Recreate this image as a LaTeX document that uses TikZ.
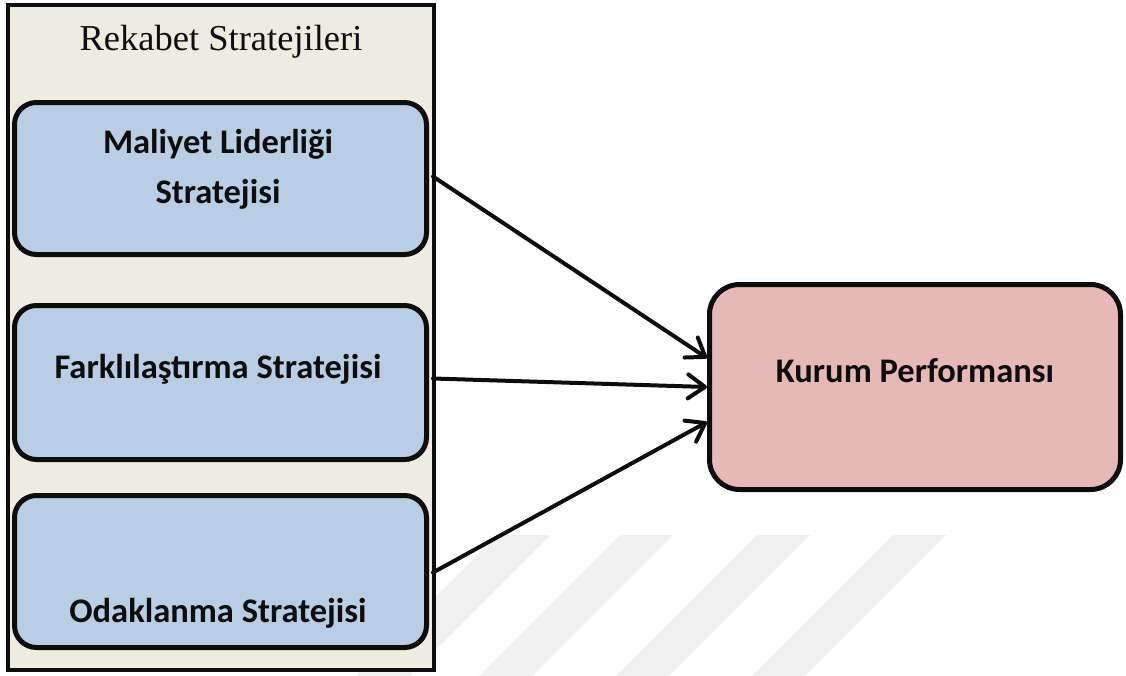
\documentclass[tikz,border=0pt]{standalone}
\usepackage{fontspec}
\setmainfont{Carlito}
\newfontfamily\titlefont{Liberation Serif}
\usetikzlibrary{arrows.meta,calc}
\definecolor{frameFill}{HTML}{EEEBE0}
\definecolor{blueFill}{HTML}{B9CDE5}
\definecolor{pinkFill}{HTML}{E6B8B7}
\definecolor{ink}{HTML}{0D0D0D}
\definecolor{wm}{HTML}{F0F0F0}
\begin{document}
\begin{tikzpicture}[x=1pt,y=-1pt,
  frame/.style={draw=ink,line width=4.5pt,fill=frameFill},
  stratbox/.style={draw=ink,line width=5pt,fill=blueFill,rounded corners=22pt,
    minimum width=412pt,inner sep=0pt},
  perfbox/.style={draw=ink,line width=5pt,fill=pinkFill,rounded corners=30pt,
    minimum width=411pt,minimum height=205pt,inner sep=0pt},
  lbl/.style={text=ink,inner sep=0pt,anchor=base,
    font=\fontsize{34.5}{40}\selectfont\bfseries},
  ttl/.style={text=ink,inner sep=0pt,anchor=base,
    font=\titlefont\fontsize{36.5}{42}\selectfont},
  conn/.style={draw=ink,line width=4pt,line cap=round,
    -{Straight Barb[length=17pt,width=24pt,line cap=round,line join=round]}},
  stripe/.style={fill=wm,draw=none}
]
\useasboundingbox (0,0) rectangle (1126,675);
% faint watermark stripes
\foreach \x in {497,620,757,893}{
  \fill[stripe] (\x,535) -- (\x+53,535) -- (\x+53-150,685) -- (\x-150,685) -- cycle;
}
% outer frame
\draw[frame] (8,5) rectangle (434,670);
\node[ttl] (title) at (221,50) {Rekabet Stratejileri};
% strategy boxes
\node[stratbox,minimum height=152pt] (b1) at (220.5,178.5) {};
\node[stratbox,minimum height=154pt] (b2) at (220.5,382.5) {};
\node[stratbox,minimum height=152pt] (b3) at (220.5,571.5) {};
\node[lbl] (t1a) at (218,153) {Maliyet Liderliği};
\node[lbl] (t1b) at (218,203) {Stratejisi};
\node[lbl] (t2) at (218,378) {Farklılaştırma Stratejisi};
\node[lbl] (t3) at (218,622) {Odaklanma Stratejisi};
% performance box
\node[perfbox] (kp) at (915,387) {};
\node[lbl] (tk) at (915,382) {Kurum Performansı};
% connectors
\draw[conn] ($(b1.east)+(4,-2)$) -- ($(kp.west)+(0,-29)$);
\draw[conn] ($(b2.east)+(4,-4)$) -- (kp.west);
\draw[conn] ($(b3.east)+(4,1)$) -- ($(kp.west)+(0,35)$);
\end{tikzpicture}
\end{document}
